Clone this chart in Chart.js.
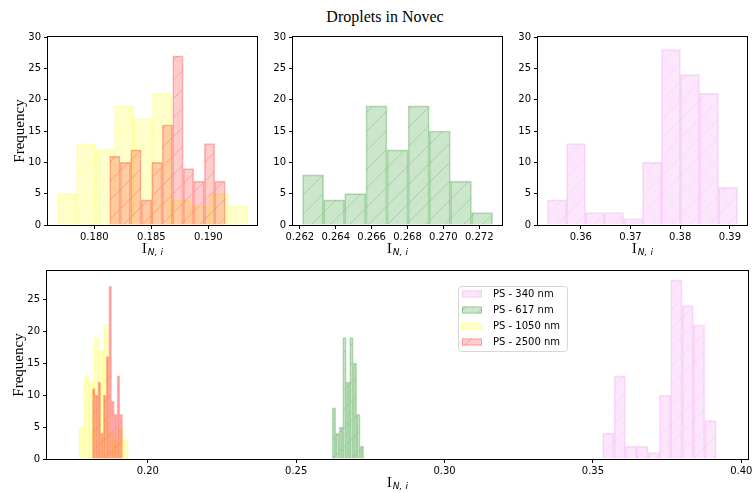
<!DOCTYPE html>
<html><head><meta charset="utf-8">
<script src="https://cdn.jsdelivr.net/npm/chart.js@4.4.1/dist/chart.umd.min.js"></script>
<style>
html,body{margin:0;padding:0;background:#fff;overflow:hidden;width:753px;height:493px;position:relative;}
canvas{position:absolute;}
#title{position:absolute;left:0;width:770px;top:9px;line-height:16px;text-align:center;font-family:"Liberation Serif";font-size:16px;color:#000;}
</style></head><body>
<div id="title">Droplets in Novec</div>
<canvas id="c1"></canvas><canvas id="c2"></canvas><canvas id="c3"></canvas><canvas id="c4"></canvas>
<script>
// ---- data ----
const seriesLabels = ['PS - 340 nm', 'PS - 617 nm', 'PS - 1050 nm', 'PS - 2500 nm'];
const edges340 = [0.35330, 0.35712, 0.36095, 0.36477, 0.36859, 0.37242, 0.37624, 0.38006, 0.38388, 0.38771, 0.39153];
const counts340 = [4, 13, 2, 2, 1, 10, 28, 24, 21, 6];
const edges617 = [0.26215, 0.26333, 0.26450, 0.26568, 0.26686, 0.26804, 0.26921, 0.27039, 0.27157, 0.27274];
const counts617 = [8, 4, 5, 19, 12, 19, 15, 7, 2];
const edges1050 = [0.17677, 0.17844, 0.18010, 0.18177, 0.18344, 0.18510, 0.18677, 0.18843, 0.19010, 0.19177, 0.19343];
const counts1050 = [5, 13, 12, 19, 17, 21, 4, 3, 5, 3];
const edges2500 = [0.18134, 0.18226, 0.18318, 0.18411, 0.18503, 0.18595, 0.18687, 0.18779, 0.18872, 0.18964, 0.19056, 0.19148];
const counts2500 = [11, 10, 12, 4, 10, 16, 27, 9, 7, 13, 7];
const ticksTop1 = [0.180, 0.185, 0.190];
const ticksTop2 = [0.262, 0.264, 0.266, 0.268, 0.270, 0.272];
const ticksTop3 = [0.36, 0.37, 0.38, 0.39];
const ticksBottom = [0.20, 0.25, 0.30, 0.35, 0.40];
const yTicksTop = [0, 5, 10, 15, 20, 25, 30];
const yTicksBottom = [0, 5, 10, 15, 20, 25];

// ---- styling ----
const RGB = ['238,130,238', '0,128,0', '255,255,0', '255,0,0'];
const ALPHA = 0.2;
function hatchPattern(rgb, a, S) {
  const c = document.createElement('canvas'); c.width = S; c.height = S;
  const g = c.getContext('2d');
  g.fillStyle = `rgba(${rgb},${a})`; g.fillRect(0, 0, S, S);
  g.strokeStyle = `rgba(${rgb},${a})`; g.lineWidth = 1;
  g.beginPath();
  g.moveTo(-1, S + 1); g.lineTo(S + 1, -1);
  g.moveTo(-1, 1); g.lineTo(1, -1);
  g.moveTo(S - 1, S + 1); g.lineTo(S + 1, S - 1);
  g.stroke();
  return g.createPattern(c, 'repeat');
}
const PAT = RGB.map(c => hatchPattern(c, ALPHA, 19));
const EDGE = RGB.map(c => `rgba(${c},0.27)`);
const EDGES = [edges340, edges617, edges1050, edges2500];
const COUNTS = [counts340, counts617, counts1050, counts2500];

function histData(edges, counts) {
  return counts.map((c, i) => ({ x: (edges[i] + edges[i + 1]) / 2, y: c }));
}
function fixedTicks(list) {
  return s => { s.ticks = list.map(v => ({ value: v })); };
}

const TICKFONT = { family: 'DejaVu Sans', size: 10 };

function drawXLabel(ctx, cx, base) {
  ctx.save();
  ctx.fillStyle = '#000';
  ctx.textBaseline = 'alphabetic';
  ctx.font = '14px "Liberation Serif"';
  const wI = ctx.measureText('I').width;
  ctx.font = 'italic 9px "DejaVu Sans"';
  const wN = ctx.measureText('N,').width, wi = ctx.measureText('i').width;
  const gap = 3;
  const total = wI + 1 + wN + gap + wi;
  let x = cx - total / 2;
  ctx.font = '14px "Liberation Serif"';
  ctx.fillText('I', x, base);
  x += wI + 1;
  ctx.font = 'italic 9px "DejaVu Sans"';
  ctx.fillText('N,', x, base + 2.5);
  x += wN + gap;
  ctx.fillText('i', x, base + 2.5);
  ctx.restore();
}
function drawYLabel(ctx, x, cy) {
  ctx.save();
  ctx.translate(x, cy);
  ctx.rotate(-Math.PI / 2);
  ctx.fillStyle = '#000';
  ctx.font = '15px "Liberation Serif"';
  ctx.textAlign = 'center';
  ctx.textBaseline = 'alphabetic';
  ctx.fillText('Frequency', 0, 0);
  ctx.restore();
}

const decorPlugin = {
  id: 'decor',
  afterDraw(chart, args, o) {
    const { ctx, chartArea: a } = chart;
    ctx.save();
    ctx.strokeStyle = '#000';
    ctx.lineWidth = 1;
    ctx.strokeRect(Math.round(a.left) - 0.5, Math.round(a.top) - 0.5,
      Math.round(a.right) - Math.round(a.left) + 1, Math.round(a.bottom) - Math.round(a.top) + 1);
    ctx.restore();
    drawXLabel(ctx, (a.left + a.right) / 2, a.bottom + 27.5);
    if (o.ylabel) drawYLabel(ctx, a.left - 24, (a.top + a.bottom) / 2);
    if (o.legend) {
      const L = a.left + 411, T = a.top + 15, W = 109, H = 65;
      ctx.save();
      ctx.beginPath();
      ctx.roundRect(L + 0.5, T + 0.5, W, H, 3);
      ctx.fillStyle = 'rgba(255,255,255,0.8)'; ctx.fill();
      ctx.strokeStyle = '#d6d6d6'; ctx.lineWidth = 1; ctx.stroke();
      ctx.font = '10px "DejaVu Sans"';
      ctx.textBaseline = 'middle';
      for (let k = 0; k < 4; k++) {
        const cy = T + 8 + 16 * k;
        ctx.fillStyle = PAT[k];
        ctx.fillRect(L + 4, cy - 3.5, 20, 7);
        ctx.strokeStyle = EDGE[k];
        ctx.strokeRect(L + 4.5, cy - 3, 19, 6);
        ctx.fillStyle = '#000';
        ctx.fillText(seriesLabels[k], L + 35, cy + 0.5);
      }
      ctx.restore();
    }
  }
};

function makeChart(id, box, xr, xt, dec, yMax, yt, seriesIdx, extra) {
  const cv = document.getElementById(id);
  const W = box.yW + box.axW + 12, H = 12 + box.axH + 40;
  cv.width = W; cv.height = H;
  cv.style.left = box.left + 'px'; cv.style.top = box.top + 'px';
  cv.style.width = W + 'px'; cv.style.height = H + 'px';
  const scales = {
    x: {
      type: 'linear', position: 'bottom', min: xr[0], max: xr[1], offset: false,
      afterBuildTicks: fixedTicks(xt),
      ticks: { font: TICKFONT, color: '#000', padding: 2, maxRotation: 0, autoSkip: false,
        callback: v => Number(v).toFixed(dec) },
      grid: { offset: false, drawOnChartArea: false, drawTicks: true, tickLength: 4, tickWidth: 1, tickColor: '#000', color: '#000' },
      border: { display: false },
      afterFit: s => { s.height = 40; }
    },
    y: {
      type: 'linear', position: 'left', min: 0, max: yMax, offset: false,
      afterBuildTicks: fixedTicks(yt),
      ticks: { font: TICKFONT, color: '#000', padding: 3 },
      grid: { offset: false, drawOnChartArea: false, drawTicks: true, tickLength: 4, tickWidth: 1, tickColor: '#000', color: '#000' },
      border: { display: false },
      afterFit: s => { s.width = box.yW; }
    }
  };
  const datasets = seriesIdx.map((k, n) => {
    const axisId = n === 0 ? 'x' : 'xs' + k;
    if (n !== 0) {
      scales[axisId] = { type: 'linear', display: false, offset: false, grid: { offset: false },
        min: xr[0], max: xr[1], afterBuildTicks: fixedTicks(xt) };
    }
    return {
      type: 'bar', label: seriesLabels[k], data: histData(EDGES[k], COUNTS[k]),
      xAxisID: axisId, yAxisID: 'y',
      backgroundColor: PAT[k], borderColor: EDGE[k], borderWidth: 1,
      barPercentage: 1, categoryPercentage: 1, grouped: false,
      order: 3 - k
    };
  });
  return new Chart(cv, {
    type: 'bar',
    data: { datasets },
    options: {
      responsive: false, animation: false, events: [],
      layout: { padding: { top: 12, right: 12, left: 0, bottom: 0 } },
      scales,
      plugins: { legend: { display: false }, tooltip: { enabled: false }, decor: extra }
    },
    plugins: [decorPlugin]
  });
}

makeChart('c1', { left: 0, top: 25, yW: 48, axW: 209, axH: 188 }, [0.17594, 0.19426], ticksTop1, 3, 30, yTicksTop, [2, 3], { ylabel: true });
makeChart('c2', { left: 245, top: 25, yW: 48, axW: 209, axH: 188 }, [0.26162, 0.27327], ticksTop2, 3, 30, yTicksTop, [1], {});
makeChart('c3', { left: 490, top: 25, yW: 48, axW: 209, axH: 188 }, [0.35139, 0.39344], ticksTop3, 2, 30, yTicksTop, [0], {});
makeChart('c4', { left: 0, top: 259, yW: 47, axW: 701, axH: 188 }, [0.16603, 0.40227], ticksBottom, 2, 29.4, yTicksBottom, [0, 1, 2, 3], { ylabel: true, legend: true });
</script>
</body></html>
